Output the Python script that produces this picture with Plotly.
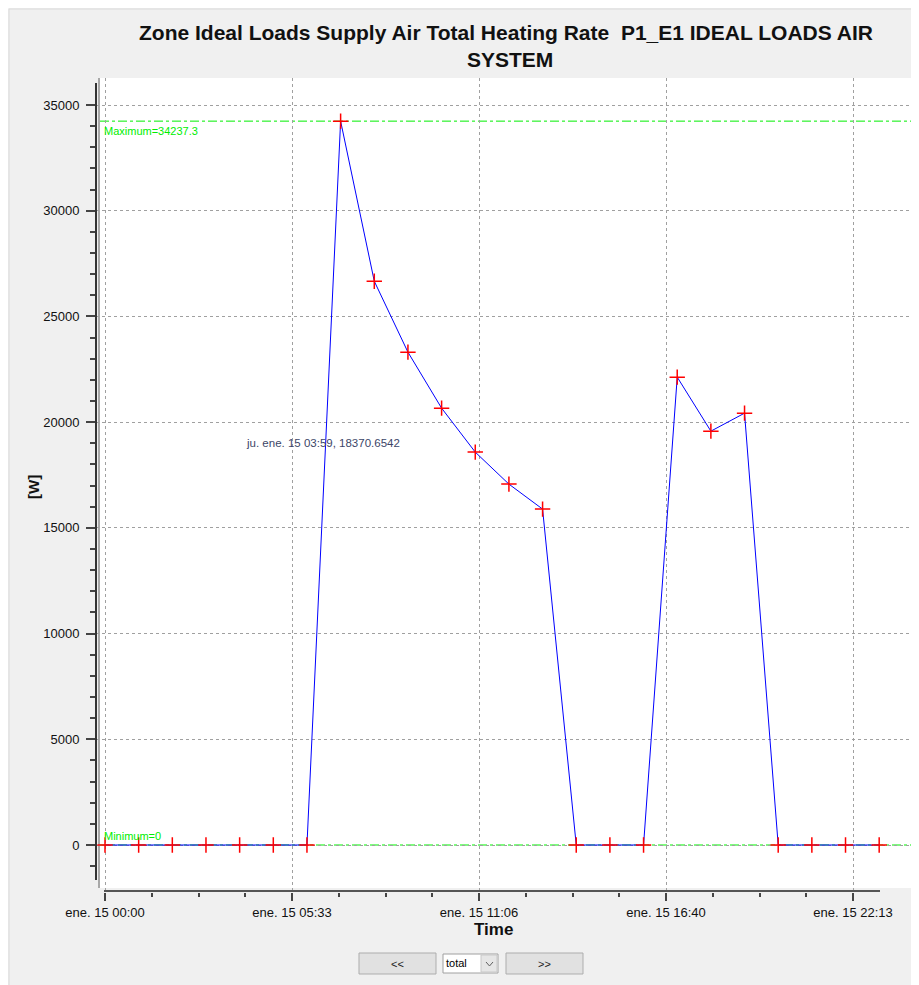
import plotly.graph_objects as go
from datetime import datetime, timedelta

# ---------------- data ----------------
times = ["2015-01-15 00:00", "2015-01-15 01:00", "2015-01-15 02:00", "2015-01-15 03:00",
         "2015-01-15 04:00", "2015-01-15 05:00", "2015-01-15 06:00", "2015-01-15 07:00",
         "2015-01-15 08:00", "2015-01-15 09:00", "2015-01-15 10:00", "2015-01-15 11:00",
         "2015-01-15 12:00", "2015-01-15 13:00", "2015-01-15 14:00", "2015-01-15 15:00",
         "2015-01-15 16:00", "2015-01-15 17:00", "2015-01-15 18:00", "2015-01-15 19:00",
         "2015-01-15 20:00", "2015-01-15 21:00", "2015-01-15 22:00", "2015-01-15 23:00"]
heating_w = [0, 0, 0, 0, 0, 0, 0, 34237.3, 26667, 23310, 20662, 18582,
             17069, 15887, 0, 0, 0, 22128, 19574, 20425, 0, 0, 0, 0]

max_value = 34237.3
min_value = 0

x_tick_times = ["2015-01-15 00:00:00", "2015-01-15 05:33:20", "2015-01-15 11:06:40",
                "2015-01-15 16:40:00", "2015-01-15 22:13:20"]
x_tick_labels = ["ene. 15 00:00", "ene. 15 05:33", "ene. 15 11:06",
                 "ene. 15 16:40", "ene. 15 22:13"]
y_tick_values = [0, 5000, 10000, 15000, 20000, 25000, 30000, 35000]

title_line1 = "Zone Ideal Loads Supply Air Total Heating Rate  P1_E1 IDEAL LOADS AIR"
title_line2 = "SYSTEM"
readout_text = "ju. ene. 15 03:59, 18370.6542"

# ---------------- layout geometry ----------------
# the page body has an 8px margin; positions below are given in window pixels
OFF = 8
W, H = 919 - OFF, 985 - OFF
L, R, T, B = 96 - OFF, 0, 78 - OFF, 93
PW, PH = W - L - R, H - T - B


def fx(px):
    return (px - OFF - L) / PW


def fy(py):
    return (H - B - (py - OFF)) / PH


base = datetime(2015, 1, 15)


def tstr(sec):
    return (base + timedelta(seconds=sec)).strftime("%Y-%m-%d %H:%M:%S.%f")[:-3]


sec_per_px = 20000 / 187.0
x_range = [tstr(-(105 - 96) * sec_per_px), tstr((919 - 105) * sec_per_px)]
unit_per_px = 35000 / 740.0
y_range = [-(892 - 845) * unit_per_px, (845 - 78) * unit_per_px]

x_minor = [tstr(s) for s in range(5000, 85000, 5000) if s % 20000 != 0]
y_minor = [v for v in range(-1000, 35000, 1000) if v % 5000 != 0]

FONT = "Liberation Sans, Arial, sans-serif"
GREEN = "#00ee00"

fig = go.Figure()
fig.add_trace(go.Scatter(
    x=times, y=heating_w, mode="lines+markers",
    line=dict(color="#0000ff", width=1),
    marker=dict(symbol="cross-thin", size=11, line=dict(color="#ff0000", width=1.5), color="#ff0000"),
    showlegend=False, hoverinfo="x+y",
))

shapes = []
# panel edge
shapes.append(dict(type="line", xref="paper", yref="paper", x0=fx(9), x1=fx(919), y0=fy(9), y1=fy(9),
                   line=dict(color="#dadada", width=1), layer="below"))
shapes.append(dict(type="line", xref="paper", yref="paper", x0=fx(9), x1=fx(9), y0=fy(9), y1=fy(985),
                   line=dict(color="#dadada", width=1), layer="below"))
# white plot region
shapes.append(dict(type="rect", xref="paper", yref="paper", x0=fx(100), x1=fx(919), y0=fy(78), y1=fy(888),
                   fillcolor="white", line=dict(width=0), layer="below"))
# gray border on the left of plot region
shapes.append(dict(type="line", xref="paper", yref="paper", x0=fx(99), x1=fx(99), y0=fy(78), y1=fy(888),
                   line=dict(color="#a8a8a8", width=2), layer="below"))
# axis lines
shapes.append(dict(type="line", xref="paper", yref="paper", x0=fx(96), x1=fx(96), y0=fy(83), y1=fy(880),
                   line=dict(color="#333333", width=2)))
shapes.append(dict(type="line", xref="paper", yref="paper", x0=fx(104), x1=fx(880), y0=fy(891), y1=fy(891),
                   line=dict(color="#555555", width=2)))
# max / min reference lines
for v in (max_value, min_value):
    shapes.append(dict(type="line", xref="paper", yref="y", x0=fx(100), x1=1, y0=v, y1=v,
                       line=dict(color=GREEN, width=1, dash="dashdot"), layer="below"))
# buttons
for x0, x1 in ((359, 436), (506, 583)):
    shapes.append(dict(type="rect", xref="paper", yref="paper", x0=fx(x0), x1=fx(x1), y0=fy(974), y1=fy(953),
                       fillcolor="#e1e1e1", line=dict(color="#adadad", width=1)))
shapes.append(dict(type="rect", xref="paper", yref="paper", x0=fx(443), x1=fx(498), y0=fy(973), y1=fy(954),
                   fillcolor="white", line=dict(color="#a0a0a0", width=1)))
shapes.append(dict(type="rect", xref="paper", yref="paper", x0=fx(481), x1=fx(497), y0=fy(972), y1=fy(955),
                   fillcolor="#e6e6e6", line=dict(color="#c8c8c8", width=1)))
shapes.append(dict(type="path", xref="paper", yref="paper",
                   path="M %f,%f L %f,%f L %f,%f" % (fx(486), fy(962), fx(489.5), fy(966), fx(493), fy(962)),
                   line=dict(color="#606060", width=1)))

annotations = [
    dict(text="<b>%s</b>" % title_line1, x=fx(506), y=fy(33), xref="paper", yref="paper",
         showarrow=False, font=dict(family=FONT, size=21, color="#111"), xanchor="center", yanchor="middle"),
    dict(text="<b>%s</b>" % title_line2, x=fx(510), y=fy(60), xref="paper", yref="paper",
         showarrow=False, font=dict(family=FONT, size=21, color="#111"), xanchor="center", yanchor="middle"),
    dict(text="<b>Time</b>", x=fx(493), y=fy(930), xref="paper", yref="paper",
         showarrow=False, font=dict(family=FONT, size=17, color="#111"), xanchor="center", yanchor="middle"),
    dict(text="<b>[W]</b>", x=fx(33), y=fy(487), xref="paper", yref="paper", textangle=-90,
         showarrow=False, font=dict(family=FONT, size=15, color="#111"), xanchor="center", yanchor="middle"),
    dict(text="Maximum=%g" % max_value, x=fx(102), y=fy(131), xref="paper", yref="paper",
         showarrow=False, font=dict(family=FONT, size=11, color=GREEN), xanchor="left", yanchor="middle"),
    dict(text="Minimum=%g" % min_value, x=fx(102), y=fy(836), xref="paper", yref="paper",
         showarrow=False, font=dict(family=FONT, size=11, color=GREEN), xanchor="left", yanchor="middle"),
    dict(text=readout_text, x=fx(244), y=fy(443), xref="paper", yref="paper",
         showarrow=False, font=dict(family=FONT, size=11.5, color="#3c4668"), xanchor="left", yanchor="middle"),
    dict(text="<<", x=fx(397.5), y=fy(964), xref="paper", yref="paper",
         showarrow=False, font=dict(family=FONT, size=11, color="#222"), xanchor="center", yanchor="middle"),
    dict(text=">>", x=fx(544.5), y=fy(964), xref="paper", yref="paper",
         showarrow=False, font=dict(family=FONT, size=11, color="#222"), xanchor="center", yanchor="middle"),
    dict(text="total", x=fx(444), y=fy(963), xref="paper", yref="paper",
         showarrow=False, font=dict(family=FONT, size=11, color="#000"), xanchor="left", yanchor="middle"),
]

fig.update_layout(
    width=W, height=H,
    margin=dict(l=L, r=R, t=T, b=B, pad=0),
    paper_bgcolor="#f0f0f0", plot_bgcolor="rgba(0,0,0,0)",
    shapes=shapes, annotations=annotations,
    font=dict(family=FONT, size=13, color="#111"),
    xaxis=dict(
        type="date", range=x_range, tickmode="array", tickvals=x_tick_times, ticktext=x_tick_labels,
        ticks="outside", ticklen=8, tickwidth=2, tickcolor="#444",
        showline=False, zeroline=False,
        showgrid=True, gridcolor="#a0a0a0", gridwidth=1, griddash="dot",
        tickfont=dict(family=FONT, size=13, color="#111"),
        minor=dict(tickmode="array", tickvals=x_minor, ticks="outside", ticklen=4, tickwidth=2,
                   tickcolor="#444", showgrid=False),
        fixedrange=True,
    ),
    yaxis=dict(
        range=y_range, tickmode="array", tickvals=y_tick_values, ticktext=[str(v) for v in y_tick_values],
        ticks="outside", ticklen=9, tickwidth=2, tickcolor="#444",
        showline=False, zeroline=False,
        showgrid=True, gridcolor="#a0a0a0", gridwidth=1, griddash="dot",
        tickfont=dict(family=FONT, size=13, color="#111"),
        ticklabelstandoff=4,
        minor=dict(tickmode="array", tickvals=y_minor, ticks="outside", ticklen=5, tickwidth=2,
                   tickcolor="#444", showgrid=False),
        fixedrange=True,
    ),
)

fig.write_html("out.html", config={"displayModeBar": False})
